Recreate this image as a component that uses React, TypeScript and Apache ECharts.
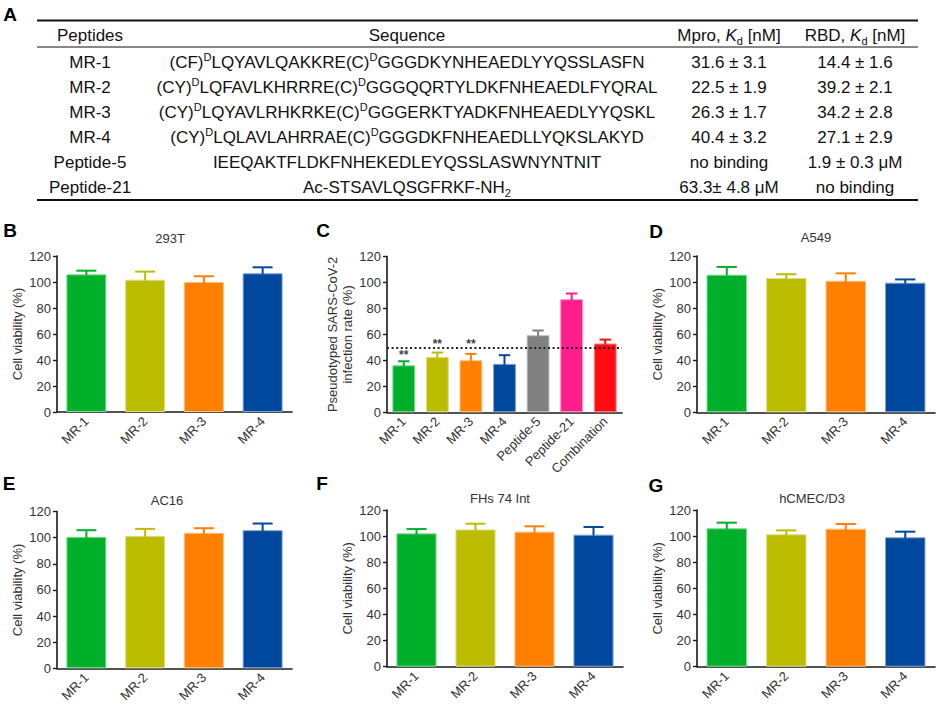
import React, { useEffect, useRef } from 'react';
import * as echarts from 'echarts';

// ---------- data ----------
const mrCats = ['MR-1', 'MR-2', 'MR-3', 'MR-4'];
const cCats = ['MR-1', 'MR-2', 'MR-3', 'MR-4', 'Peptide-5', 'Peptide-21', 'Combination'];

const bMean = [105.9, 101.8, 100.0, 106.7];
const bSd = [2.8, 6.2, 4.4, 4.6];
const cMean = [36.2, 42.7, 40.1, 37.3, 59.4, 87.1, 53.0];
const cSd = [3.1, 3.3, 4.9, 6.7, 3.6, 4.4, 3.0];
const cStarIdx = [0, 1, 2];
const cStarY = [44, 52.6, 52.6];
const cThreshold = 50;
const dMean = [105.7, 103.1, 101.0, 99.5];
const dSd = [5.9, 2.9, 5.7, 2.5];
const eMean = [100.6, 101.4, 103.7, 105.7];
const eSd = [5.1, 5.3, 3.5, 5.1];
const fMean = [102.1, 105.1, 103.4, 101.1];
const fSd = [3.3, 4.4, 4.1, 5.9];
const gMean = [106.0, 101.4, 105.7, 99.1];
const gSd = [4.3, 3.0, 3.6, 4.3];

const yTicks = { min: 0, max: 120, interval: 20 };

const tablePeptides = ['MR-1', 'MR-2', 'MR-3', 'MR-4', 'Peptide-5', 'Peptide-21'];
const tableSequences = [
  '(CF)^DLQYAVLQAKKRE(C)^DGGGDKYNHEAEDLYYQSSLASFN',
  '(CY)^DLQFAVLKHRRRE(C)^DGGGQQRTYLDKFNHEAEDLFYQRAL',
  '(CY)^DLQYAVLRHKRKE(C)^DGGGERKTYADKFNHEAEDLYYQSKL',
  '(CY)^DLQLAVLAHRRAE(C)^DGGGDKFNHEAEDLLYQKSLAKYD',
  'IEEQAKTFLDKFNHEKEDLEYQSSLASWNYNTNIT',
  'Ac-STSAVLQSGFRKF-NH_2',
];
const tableMpro = ['31.6 ± 3.1', '22.5 ± 1.9', '26.3 ± 1.7', '40.4 ± 3.2', 'no binding', '63.3± 4.8 μM'];
const tableRbd = ['14.4 ± 1.6', '39.2 ± 2.1', '34.2 ± 2.8', '27.1 ± 2.9', '1.9 ± 0.3 μM', 'no binding'];

// ---------- styles ----------
const colors = ['#00B02A', '#BCBD00', '#FF8000', '#00479E', '#808080', '#FF1F8C', '#FF0D12'];
const borders = ['#7FD98E', '#DEDE85', '#FFBF80', '#7FA3CF', '#BFBFBF', '#FF8FC5', '#FF8688'];
const FONT = '"Liberation Sans", Arial, Helvetica, sans-serif';
const AX = '#1a1a1a';
const TXT = '#333';

const panels = [
  { cats: mrCats, mean: bMean, sd: bSd, title: '293T', letter: 'B', lx: 10, ly: 230, tx: 170, ty: 238,
    grid: { left: 57, top: 256, width: 235, height: 156 }, gap: 32, name: 'Cell viability (%)' },
  { cats: cCats, mean: cMean, sd: cSd, title: '', letter: 'C', lx: 323, ly: 230, tx: 0, ty: 0,
    grid: { left: 387, top: 256.5, width: 235, height: 155.8 }, gap: 26, name: 'Pseudotyped SARS-CoV-2\ninfection rate (%)' },
  { cats: mrCats, mean: dMean, sd: dSd, title: 'A549', letter: 'D', lx: 656, ly: 231, tx: 816, ty: 237,
    grid: { left: 697, top: 256, width: 238, height: 156.3 }, gap: 27, name: 'Cell viability (%)' },
  { cats: mrCats, mean: eMean, sd: eSd, title: 'AC16', letter: 'E', lx: 9, ly: 483, tx: 167, ty: 500,
    grid: { left: 57, top: 511.5, width: 235, height: 156.8 }, gap: 32, name: 'Cell viability (%)' },
  { cats: mrCats, mean: fMean, sd: fSd, title: 'FHs 74 Int', letter: 'F', lx: 322, ly: 483, tx: 500, ty: 498,
    grid: { left: 387, top: 510, width: 236, height: 156.7 }, gap: 32, name: 'Cell viability (%)' },
  { cats: mrCats, mean: gMean, sd: gSd, title: 'hCMEC/D3', letter: 'G', lx: 656, ly: 485, tx: 812, ty: 498,
    grid: { left: 697, top: 510, width: 238, height: 156.7 }, gap: 26, name: 'Cell viability (%)' },
];

function seqRich(s: string): string {
  // ^X = superscript X, _X = subscript X
  let out = '';
  let buf = '';
  for (let i = 0; i < s.length; i++) {
    const ch = s[i];
    if (ch === '^' || ch === '_') {
      if (buf) out += '{t|' + buf + '}';
      buf = '';
      out += (ch === '^' ? '{sup|' : '{sub|') + s[i + 1] + '}';
      i++;
    } else buf += ch;
  }
  if (buf) out += '{t|' + buf + '}';
  return out;
}

const TFS = 17;
const richStyles = {
  t: { fontSize: TFS, fontFamily: FONT, fill: '#111', lineHeight: 22, verticalAlign: 'middle' },
  i: { fontSize: TFS, fontFamily: FONT, fill: '#111', lineHeight: 22, fontStyle: 'italic', verticalAlign: 'middle' },
  sup: { fontSize: 11, fontFamily: FONT, fill: '#111', lineHeight: 12, verticalAlign: 'top' },
  sub: { fontSize: 11, fontFamily: FONT, fill: '#111', lineHeight: 12, verticalAlign: 'bottom' },
};

function tableText(x: number, y: number, text: string) {
  return {
    type: 'text',
    x,
    y,
    style: { text, rich: richStyles, align: 'center', verticalAlign: 'middle', font: `${TFS}px ${FONT}`, fill: '#111' },
  };
}

export default function App() {
  const ref = useRef<HTMLDivElement>(null);

  useEffect(() => {
    if (!ref.current) return;
    const chart = echarts.init(ref.current, undefined, { renderer: 'svg' });

    const grid: any[] = [];
    const xAxis: any[] = [];
    const yAxis: any[] = [];
    const series: any[] = [];
    const graphic: any[] = [];

    panels.forEach((p, i) => {
      grid.push({ ...p.grid, containLabel: false });
      xAxis.push({
        type: 'category',
        gridIndex: i,
        data: p.cats,
        boundaryGap: true,
        axisLine: { lineStyle: { color: AX, width: 1.6 } },
        axisTick: { alignWithLabel: true, length: 4, lineStyle: { color: AX, width: 1.4 } },
        axisLabel: { rotate: 45, interval: 0, fontSize: 13, color: TXT, fontFamily: FONT, margin: 7 },
      });
      yAxis.push({
        type: 'value',
        gridIndex: i,
        min: yTicks.min,
        max: yTicks.max,
        interval: yTicks.interval,
        splitLine: { show: false },
        axisLine: { show: true, lineStyle: { color: AX, width: 1.6 } },
        axisTick: { show: true, length: 4, lineStyle: { color: AX, width: 1.4 } },
        axisLabel: { fontSize: 13, color: TXT, fontFamily: FONT, margin: 6 },
        name: p.name,
        nameLocation: 'middle',
        nameGap: p.gap,
        nameTextStyle: { fontSize: 13, color: TXT, fontFamily: FONT, lineHeight: 15 },
      });
      series.push({
        type: 'bar',
        xAxisIndex: i,
        yAxisIndex: i,
        z: 2,
        barCategoryGap: '32%',
        data: p.mean.map((v, j) => ({
          value: v,
          itemStyle: { color: colors[j], borderColor: borders[j], borderWidth: 1 },
        })),
      });
      series.push({
        type: 'custom',
        xAxisIndex: i,
        yAxisIndex: i,
        z: 3,
        encode: { x: 0, y: 1 },
        data: p.mean.map((v, j) => [j, v, p.sd[j]]),
        renderItem: (params: any, api: any) => {
          const idx = api.value(0);
          const m = api.value(1);
          const s = api.value(2);
          const p0 = api.coord([idx, m]);
          const p1 = api.coord([idx, m + s]);
          const w = api.size([1, 0])[0] * 0.17;
          const c = colors[idx];
          return {
            type: 'group',
            children: [
              { type: 'line', shape: { x1: p0[0], y1: p0[1] + 1, x2: p1[0], y2: p1[1] }, style: { stroke: c, lineWidth: 2 } },
              { type: 'line', shape: { x1: p1[0] - w, y1: p1[1], x2: p1[0] + w, y2: p1[1] }, style: { stroke: c, lineWidth: 2 } },
            ],
          };
        },
      });
      graphic.push({
        type: 'text',
        x: p.lx,
        y: p.ly,
        style: { text: p.letter, font: `bold 19px ${FONT}`, fill: '#000', align: 'center', verticalAlign: 'middle' },
      });
      if (p.title) {
        graphic.push({
          type: 'text',
          x: p.tx,
          y: p.ty,
          style: { text: p.title, font: `13px ${FONT}`, fill: TXT, align: 'center', verticalAlign: 'middle' },
        });
      }
    });

    // panel C extras: threshold line (behind bars) and significance stars
    series.push({
      type: 'line',
      xAxisIndex: 1,
      yAxisIndex: 1,
      z: 1,
      data: [],
      markLine: {
        silent: true,
        symbol: ['none', 'none'],
        label: { show: false },
        lineStyle: { type: [2, 2.6], color: '#222', width: 2 },
        data: [{ yAxis: cThreshold }],
      },
    });
    series.push({
      type: 'custom',
      xAxisIndex: 1,
      yAxisIndex: 1,
      z: 4,
      encode: { x: 0, y: 1 },
      data: cStarIdx.map((k, j) => [k, cStarY[j]]),
      renderItem: (params: any, api: any) => {
        const pt = api.coord([api.value(0), api.value(1)]);
        return {
          type: 'text',
          x: pt[0],
          y: pt[1],
          style: { text: '**', font: `bold 12px ${FONT}`, fill: '#444', align: 'center', verticalAlign: 'middle' },
        };
      },
    });

    // ---------- table (panel A) ----------
    graphic.push({
      type: 'text', x: 10, y: 14,
      style: { text: 'A', font: `bold 19px ${FONT}`, fill: '#000', align: 'center', verticalAlign: 'middle' },
    });
    const tx0 = 37, tx1 = 918;
    graphic.push({ type: 'line', shape: { x1: tx0, y1: 20.5, x2: tx1, y2: 20.5 }, style: { stroke: '#111', lineWidth: 2.2 } });
    graphic.push({ type: 'line', shape: { x1: tx0, y1: 47, x2: tx1, y2: 47 }, style: { stroke: '#111', lineWidth: 1 } });
    graphic.push({ type: 'line', shape: { x1: tx0, y1: 200, x2: tx1, y2: 200 }, style: { stroke: '#111', lineWidth: 2.2 } });
    const colX = [90, 407, 729, 855];
    const headY = 35;
    graphic.push(tableText(colX[0], headY, '{t|Peptides}'));
    graphic.push(tableText(colX[1], headY, '{t|Sequence}'));
    graphic.push(tableText(colX[2], headY, '{t|Mpro, }{i|K}{sub|d}{t| [nM]}'));
    graphic.push(tableText(colX[3], headY, '{t|RBD, }{i|K}{sub|d}{t| [nM]}'));
    const rowY = [62, 87, 112, 137, 162, 187];
    tablePeptides.forEach((name, r) => {
      graphic.push(tableText(colX[0], rowY[r], '{t|' + name + '}'));
      graphic.push(tableText(colX[1], rowY[r], seqRich(tableSequences[r])));
      graphic.push(tableText(colX[2], rowY[r], '{t|' + tableMpro[r] + '}'));
      graphic.push(tableText(colX[3], rowY[r], '{t|' + tableRbd[r] + '}'));
    });

    chart.setOption({
      animation: false,
      backgroundColor: '#fff',
      textStyle: { fontFamily: FONT },
      grid,
      xAxis,
      yAxis,
      series,
      graphic: { elements: graphic },
    });

    return () => {
      chart.dispose();
    };
  }, []);

  return (
    <div
      ref={ref}
      style={{ position: 'absolute', left: 0, top: 0, width: 941, height: 707, background: '#fff' }}
    />
  );
}
